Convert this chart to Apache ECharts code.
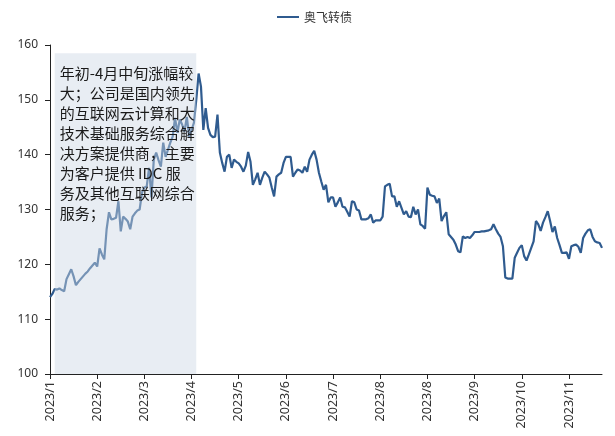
<!DOCTYPE html>
<html>
<head>
<meta charset="utf-8">
<script src="https://cdn.jsdelivr.net/npm/echarts@6/dist/echarts.min.js"></script>
<style>
html,body{margin:0;padding:0;background:#fff;}
#chart{width:615px;height:436px;}
</style>
</head>
<body>
<div id="chart"></div>
<script>
const seriesName = '奥飞转债';
const tickLabels = ['2023/1','2023/2','2023/3','2023/4','2023/5','2023/6','2023/7','2023/8','2023/8','2023/9','2023/10','2023/11'];
const tickEvery = 20;
const values = [
114.0,114.6,115.5,115.4,115.6,115.3,115.1,117.3,118.2,119.1,
117.8,116.2,116.8,117.3,117.8,118.3,118.7,119.3,119.8,120.3,
119.6,122.9,121.8,120.9,126.4,129.5,128.2,128.3,128.5,131.5,
126.0,128.7,128.3,127.8,126.4,128.7,129.3,129.8,130.0,133.1,
134.0,134.2,137.6,132.2,139.1,140.4,139.0,137.8,142.2,139.6,
140.9,142.2,143.3,146.7,144.0,146.4,145.5,144.2,146.9,143.3,
144.5,145.8,150.0,154.8,152.4,144.5,148.5,144.9,143.6,143.2,
143.3,147.3,140.4,138.5,136.9,139.6,140.0,137.6,139.1,138.7,
138.4,137.8,136.9,138.0,140.5,138.7,134.5,135.5,136.7,134.5,
135.8,136.9,136.4,135.8,134.0,132.4,136.0,136.4,136.7,138.5,
139.6,139.6,139.6,136.0,136.7,137.3,137.1,136.7,137.8,136.9,
139.1,140.0,140.7,139.1,136.7,135.1,133.6,134.5,131.3,132.2,
132.2,130.5,131.3,132.2,130.5,130.4,129.6,128.7,131.5,131.3,
130.0,129.8,128.2,128.2,128.2,128.4,129.1,127.6,128.0,128.0,
128.0,128.7,134.2,134.5,134.7,132.4,132.4,130.5,131.5,130.3,
129.1,129.7,128.7,128.6,130.5,129.1,130.0,127.3,127.0,126.5,
134.0,132.7,132.5,132.4,131.2,132.0,127.9,128.8,129.5,125.5,
125.0,124.5,123.6,122.4,122.2,125.1,124.8,125.0,124.8,125.3,
125.9,125.9,125.9,126.0,126.0,126.1,126.2,126.4,127.3,126.4,
125.6,125.0,123.3,117.6,117.4,117.4,117.4,121.2,122.1,123.0,
123.5,121.5,120.7,121.8,123.0,124.2,127.9,127.3,126.1,127.6,
128.6,129.7,127.9,125.9,126.9,124.8,123.5,122.1,122.1,122.2,
121.0,123.3,123.5,123.6,123.2,122.1,124.8,125.6,126.2,126.4,
125.0,124.2,124.0,123.9,123.0
];
const categories = values.map((_, i) => String(i));
const shadeStart = 2, shadeEnd = 62, shadeTop = 158.5, shadeBottom = 100;
const annotationLines = [
  '年初-4月中旬涨幅较',
  '大；公司是国内领先',
  '的互联网云计算和大',
  '技术基础服务综合解',
  '决方案提供商，主要',
  '为客户提供 IDC 服',
  '务及其他互联网综合',
  '服务；'
];

const chart = echarts.init(document.getElementById('chart'));
const isTick = (i) => i % tickEvery === 0;
chart.setOption({
  animation: false,
  textStyle: { fontFamily: 'Noto Sans, Noto Sans CJK SC, sans-serif' },
  legend: {
    data: [seriesName],
    top: 6,
    left: 272,
    icon: 'rect',
    itemWidth: 22,
    itemHeight: 2,
    itemGap: 4,
    textStyle: { fontSize: 12, color: '#333', fontFamily: 'Noto Sans CJK SC' }
  },
  grid: { left: 50, right: 13, top: 45, bottom: 62 },
  xAxis: {
    type: 'category',
    data: categories,
    boundaryGap: false,
    axisLine: { lineStyle: { color: '#222', width: 1 } },
    axisTick: { interval: (i) => isTick(i), length: 5, lineStyle: { color: '#222' } },
    axisLabel: {
      interval: (i) => isTick(i),
      rotate: 90,
      margin: 7,
      fontSize: 12.5,
      color: '#333',
      formatter: (v, i) => isTick(i) ? tickLabels[i / tickEvery] : ''
    },
    splitLine: { show: false }
  },
  yAxis: {
    type: 'value',
    min: 100,
    max: 160,
    interval: 10,
    axisLine: { show: true, lineStyle: { color: '#222', width: 1 } },
    axisTick: { show: true, length: 5, lineStyle: { color: '#222' } },
    axisLabel: { fontSize: 12, color: '#333', margin: 12 },
    splitLine: { show: false }
  },
  series: [
    {
      name: seriesName,
      type: 'line',
      data: values,
      symbol: 'none',
      z: 2,
      lineStyle: { color: '#2f5b8f', width: 2.2 },
      itemStyle: { color: '#2f5b8f' }
    },
    {
      name: 'shade',
      type: 'line',
      data: [],
      z: 5,
      silent: true,
      markArea: {
        silent: true,
        z: 10,
        itemStyle: { color: 'rgba(205,214,228,0.45)' },
        label: {
          show: true,
          position: 'insideTopLeft',
          distance: 0,
          padding: [10, 0, 0, 5],
          fontSize: 15,
          lineHeight: 20,
          color: '#1a1a1a',
          fontFamily: 'Noto Sans CJK SC',
          formatter: annotationLines.join('\n')
        },
        data: [[
          { xAxis: shadeStart, yAxis: shadeTop },
          { xAxis: shadeEnd, yAxis: shadeBottom }
        ]]
      }
    }
  ]
});
</script>
</body>
</html>
